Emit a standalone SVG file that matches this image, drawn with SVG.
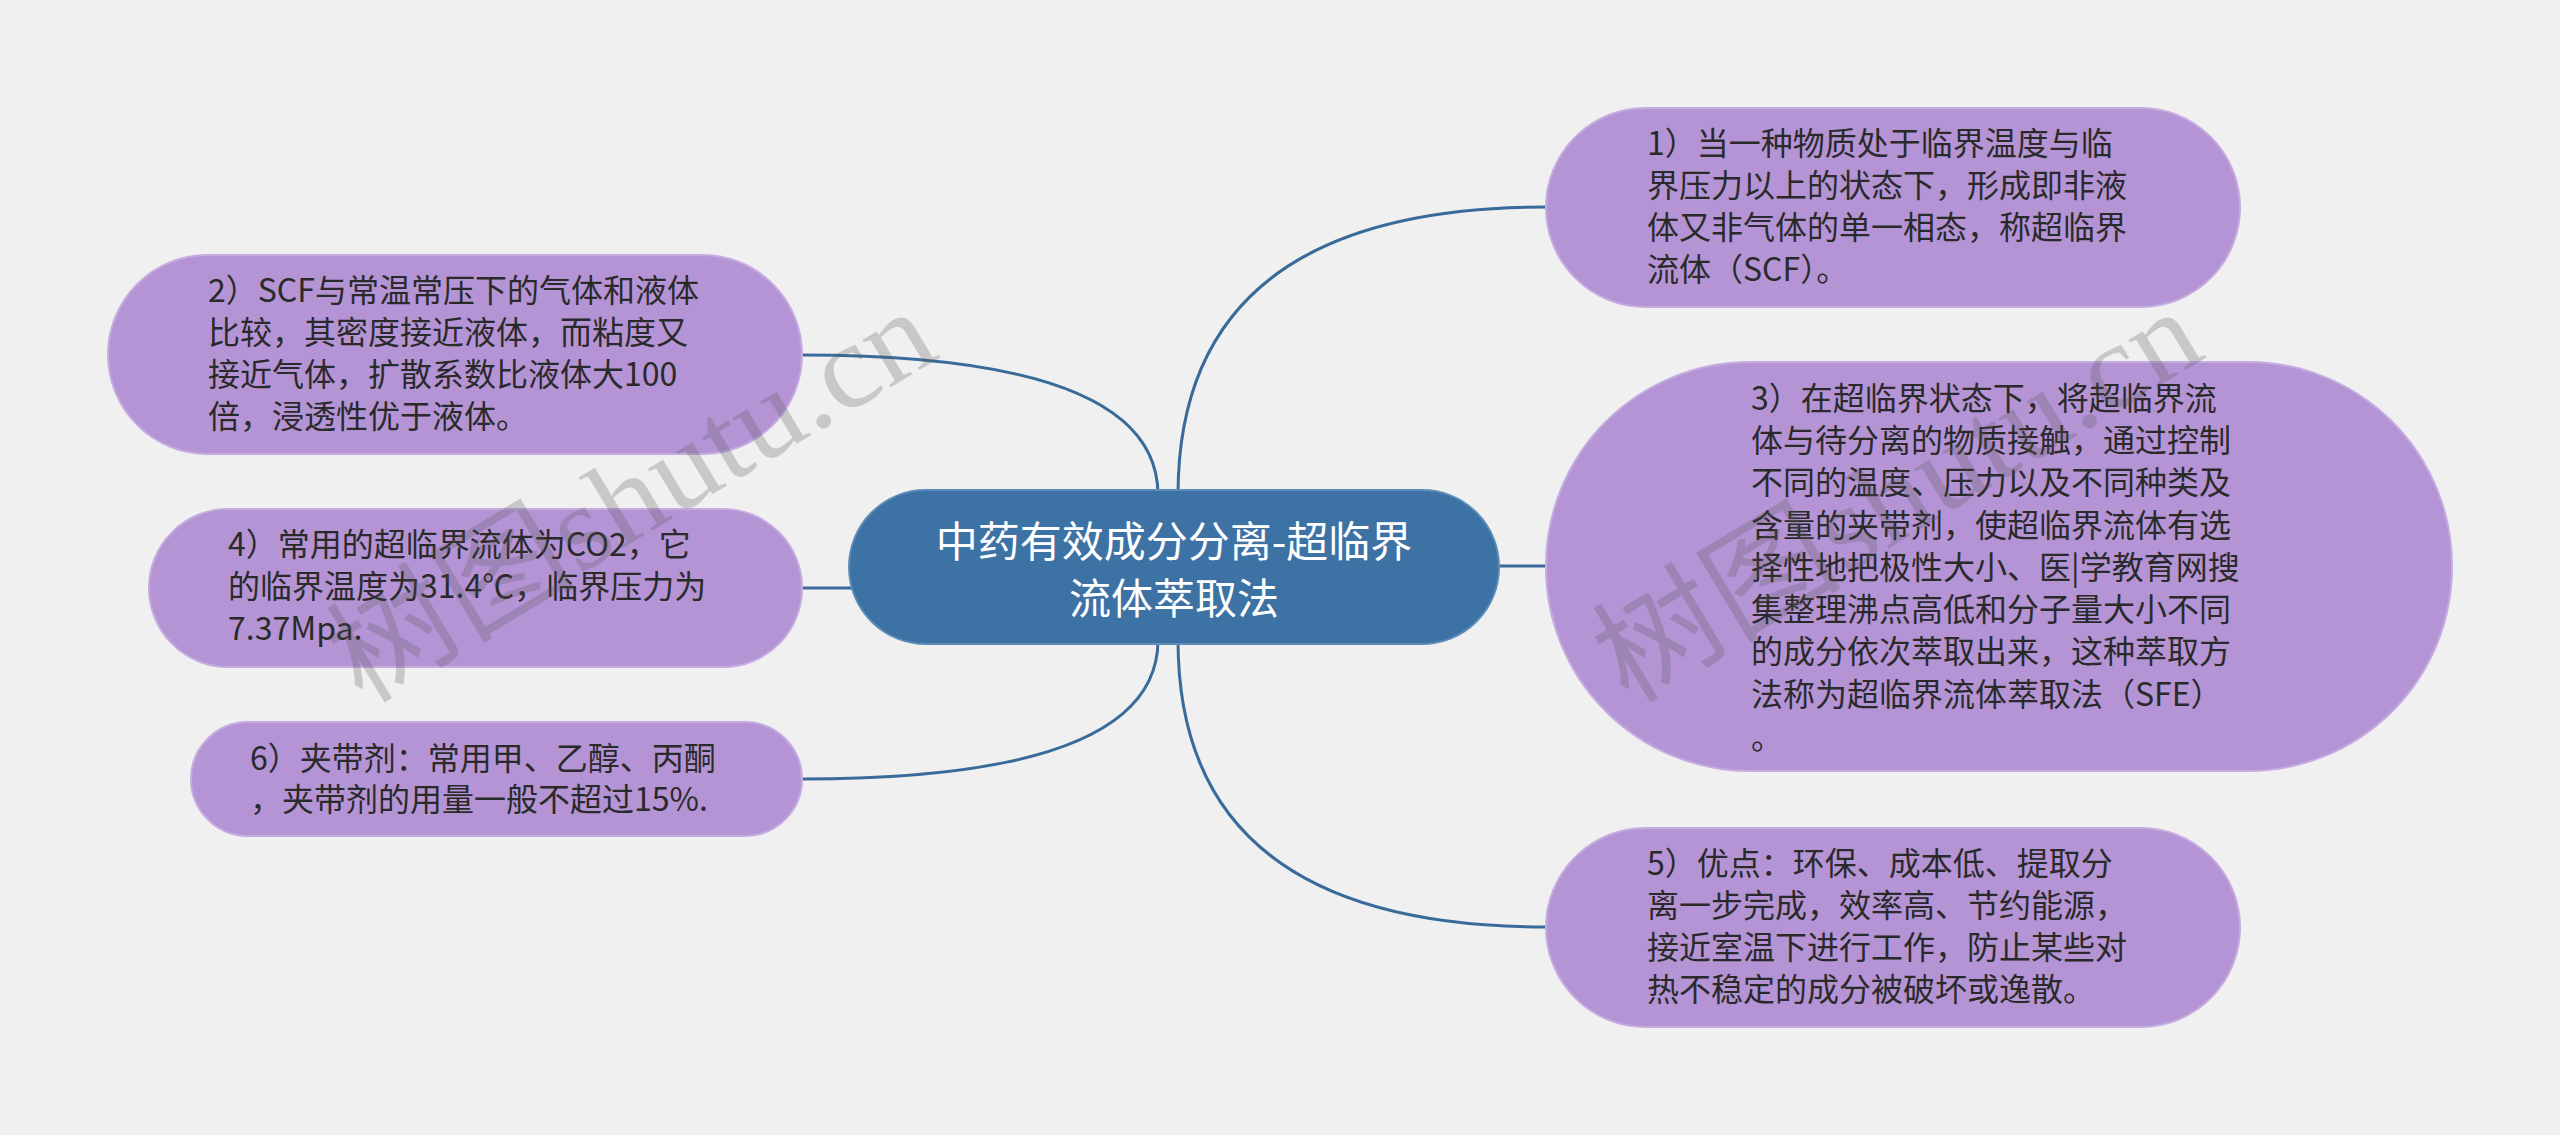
<svg xmlns="http://www.w3.org/2000/svg" width="2560" height="1135" viewBox="0 0 2560 1135">
<style>
.bg{fill:#f0f0f0}
.conn{fill:none;stroke:#386b9a;stroke-width:3}
.leaf{fill:#b594d6;stroke:#c4abe0;stroke-width:2}
.root{fill:#3d72a4;stroke:#5d8cb8;stroke-width:2}
.t{font-family:"Noto Sans CJK SC","Noto Sans",sans-serif;font-size:32px;fill:#2a2a2a}
.rt{font-family:"Noto Sans CJK SC","Noto Sans",sans-serif;font-size:42px;fill:#ffffff;text-anchor:middle}
.wm{font-family:"Liberation Serif","Noto Sans CJK SC",serif;font-size:120px;fill:#555555;opacity:0.25}
</style>
<rect class="bg" x="0" y="0" width="2560" height="1135"/>
<g id="connectors">
<path class="conn" d="M1178,495 Q1178,207 1546,207"/>
<path class="conn" d="M1499,566 L1548,566"/>
<path class="conn" d="M1178,640 Q1178,927 1546,927"/>
<path class="conn" d="M1158,495 Q1158,355 802,355"/>
<path class="conn" d="M860,588 L802,588"/>
<path class="conn" d="M1158,640 Q1158,779 802,779"/>
</g>
<g id="root">
<rect class="root" x="849" y="490" width="650" height="154" rx="77"/>
<text class="rt" x="1174" y="557">中药有效成分分离-超临界</text>
<text class="rt" x="1174" y="614">流体萃取法</text>
</g>
<g id="node1">
<rect class="leaf" x="1546" y="108" width="694" height="199" rx="99.5"/>
<text class="t" x="1647" y="155">1）当一种物质处于临界温度与临</text>
<text class="t" x="1647" y="197">界压力以上的状态下，形成即非液</text>
<text class="t" x="1647" y="239">体又非气体的单一相态，称超临界</text>
<text class="t" x="1647" y="281">流体（SCF）。</text>
</g>
<g id="node3">
<rect class="leaf" x="1546" y="362" width="906" height="409" rx="204"/>
<text class="t" x="1751" y="410">3）在超临界状态下，将超临界流</text>
<text class="t" x="1751" y="452">体与待分离的物质接触，通过控制</text>
<text class="t" x="1751" y="494">不同的温度、压力以及不同种类及</text>
<text class="t" x="1751" y="537">含量的夹带剂，使超临界流体有选</text>
<text class="t" x="1751" y="579">择性地把极性大小、医|学教育网搜</text>
<text class="t" x="1751" y="621">集整理沸点高低和分子量大小不同</text>
<text class="t" x="1751" y="663">的成分依次萃取出来，这种萃取方</text>
<text class="t" x="1751" y="706">法称为超临界流体萃取法（SFE）</text>
<text class="t" x="1751" y="749">。</text>
</g>
<g id="node5">
<rect class="leaf" x="1546" y="828" width="694" height="199" rx="99.5"/>
<text class="t" x="1647" y="875">5）优点：环保、成本低、提取分</text>
<text class="t" x="1647" y="917">离一步完成，效率高、节约能源，</text>
<text class="t" x="1647" y="959">接近室温下进行工作，防止某些对</text>
<text class="t" x="1647" y="1001">热不稳定的成分被破坏或逸散。</text>
</g>
<g id="node2">
<rect class="leaf" x="108" y="255" width="694" height="199" rx="99.5"/>
<text class="t" x="208" y="302">2）SCF与常温常压下的气体和液体</text>
<text class="t" x="208" y="344">比较，其密度接近液体，而粘度又</text>
<text class="t" x="208" y="386">接近气体，扩散系数比液体大100</text>
<text class="t" x="208" y="428">倍，浸透性优于液体。</text>
</g>
<g id="node4">
<rect class="leaf" x="149" y="509" width="653" height="158" rx="79"/>
<text class="t" x="228" y="556">4）常用的超临界流体为CO2，它</text>
<text class="t" x="228" y="598">的临界温度为31.4℃，临界压力为</text>
<text class="t" x="228" y="640">7.37Mpa.</text>
</g>
<g id="node6">
<rect class="leaf" x="191" y="722" width="611" height="114" rx="57"/>
<text class="t" x="250" y="770">6）夹带剂：常用甲、乙醇、丙酮</text>
<text class="t" x="250" y="811">，夹带剂的用量一般不超过15%.</text>
</g>
<g id="watermarks">
<text class="wm" x="362" y="705" transform="rotate(-31 362 705)" textLength="677" lengthAdjust="spacingAndGlyphs">树图shutu.cn</text>
<text class="wm" x="1628" y="705" transform="rotate(-31 1628 705)" textLength="677" lengthAdjust="spacingAndGlyphs">树图shutu.cn</text>
</g>
</svg>
